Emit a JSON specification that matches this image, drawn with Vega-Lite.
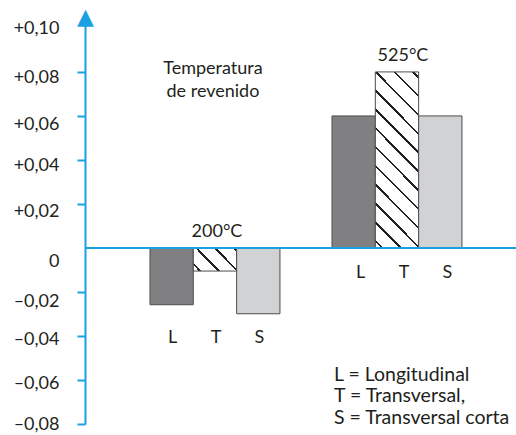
{
  "$schema": "https://vega.github.io/schema/vega-lite/v6.json",
  "width": 431,
  "height": 406,
  "autosize": {"type": "none"},
  "padding": {"left": 85, "top": 18, "right": 0, "bottom": 11},
  "config": {"view": {"stroke": null}, "font": "Lato", "text": {"font": "Lato", "fontSize": 18, "color": "#231f20"}},
  "data": {"values": [
    {"group": "200°C", "component": "L", "value": -0.0258},
    {"group": "200°C", "component": "T", "value": -0.0105},
    {"group": "200°C", "component": "S", "value": -0.0299},
    {"group": "525°C", "component": "L", "value": 0.06},
    {"group": "525°C", "component": "T", "value": 0.08},
    {"group": "525°C", "component": "S", "value": 0.06}
  ]},
  "layer": [
    {
      "mark": {"type": "bar", "stroke": "#4d4d4f", "strokeWidth": 1},
      "encoding": {
        "x": {"field": "group", "type": "nominal", "sort": ["200°C", "525°C"], "scale": {"paddingInner": 0.286, "paddingOuter": 0.327, "align": 0.546}, "axis": null},
        "xOffset": {"field": "component", "type": "nominal", "sort": ["L", "T", "S"], "scale": {"paddingInner": 0, "paddingOuter": 0}},
        "y": {
          "field": "value", "type": "quantitative", "title": "▲",
          "scale": {"domain": [-0.08, 0.1045], "nice": false, "zero": false},
          "axis": {
            "values": [-0.08, -0.06, -0.04, -0.02, 0, 0.02, 0.04, 0.06, 0.08, 0.1],
            "labelExpr": "datum.value === 0 ? '0' : (datum.value > 0 ? '+' : '–') + replace(format(abs(datum.value), '.2f'), '.', ',')",
            "grid": false,
            "domainColor": "#1ba1e2", "domainWidth": 2,
            "tickColor": "#1ba1e2", "tickWidth": 2, "tickSize": 8,
            "tickOpacity": {"condition": {"test": "abs(datum.value) < 0.001 || datum.value > 0.09", "value": 0}, "value": 1},
            "labelFont": "Lato", "labelFontSize": 18, "labelColor": "#231f20", "labelPadding": 18,
            "labelOffset": {"condition": [
              {"test": "datum.value > 0.09", "value": 1},
              {"test": "datum.value > 0.07", "value": 5.5},
              {"test": "datum.value > 0.05", "value": 9},
              {"test": "datum.value > 0.03", "value": 5.7},
              {"test": "datum.value > 0.01", "value": 7.7},
              {"test": "datum.value > -0.01", "value": 13.4},
              {"test": "datum.value > -0.03", "value": 9.4},
              {"test": "datum.value > -0.07", "value": 3.3}
            ], "value": 0.3},
            "titleColor": "#1ba1e2", "titleFont": "DejaVu Sans", "titleFontSize": 22, "titleFontWeight": "normal",
            "titleAngle": 0, "titleX": 0, "titleY": 5, "titleAlign": "center", "titleBaseline": "alphabetic"
          }
        },
        "fill": {
          "condition": [
            {"test": "datum.component === 'L'", "value": "#808083"},
            {"test": "datum.component === 'S'", "value": "#d1d2d4"},
            {"test": "datum.group === '525°C'", "value": {
              "gradient": "linear", "x1": 0, "y1": 1, "x2": 0.292, "y2": -0.175,
              "stops": [
                {"offset": 0, "color": "#ffffff"},
                {"offset": 0.0262, "color": "#ffffff"}, {"offset": 0.0262, "color": "#231f20"}, {"offset": 0.0377, "color": "#231f20"}, {"offset": 0.0377, "color": "#ffffff"},
                {"offset": 0.1120, "color": "#ffffff"}, {"offset": 0.1120, "color": "#231f20"}, {"offset": 0.1235, "color": "#231f20"}, {"offset": 0.1235, "color": "#ffffff"},
                {"offset": 0.1977, "color": "#ffffff"}, {"offset": 0.1977, "color": "#231f20"}, {"offset": 0.2092, "color": "#231f20"}, {"offset": 0.2092, "color": "#ffffff"},
                {"offset": 0.2834, "color": "#ffffff"}, {"offset": 0.2834, "color": "#231f20"}, {"offset": 0.2949, "color": "#231f20"}, {"offset": 0.2949, "color": "#ffffff"},
                {"offset": 0.3692, "color": "#ffffff"}, {"offset": 0.3692, "color": "#231f20"}, {"offset": 0.3807, "color": "#231f20"}, {"offset": 0.3807, "color": "#ffffff"},
                {"offset": 0.4549, "color": "#ffffff"}, {"offset": 0.4549, "color": "#231f20"}, {"offset": 0.4664, "color": "#231f20"}, {"offset": 0.4664, "color": "#ffffff"},
                {"offset": 0.5406, "color": "#ffffff"}, {"offset": 0.5406, "color": "#231f20"}, {"offset": 0.5521, "color": "#231f20"}, {"offset": 0.5521, "color": "#ffffff"},
                {"offset": 0.6264, "color": "#ffffff"}, {"offset": 0.6264, "color": "#231f20"}, {"offset": 0.6379, "color": "#231f20"}, {"offset": 0.6379, "color": "#ffffff"},
                {"offset": 0.7121, "color": "#ffffff"}, {"offset": 0.7121, "color": "#231f20"}, {"offset": 0.7236, "color": "#231f20"}, {"offset": 0.7236, "color": "#ffffff"},
                {"offset": 0.7978, "color": "#ffffff"}, {"offset": 0.7978, "color": "#231f20"}, {"offset": 0.8093, "color": "#231f20"}, {"offset": 0.8093, "color": "#ffffff"},
                {"offset": 0.8836, "color": "#ffffff"}, {"offset": 0.8836, "color": "#231f20"}, {"offset": 0.8951, "color": "#231f20"}, {"offset": 0.8951, "color": "#ffffff"},
                {"offset": 0.9693, "color": "#ffffff"}, {"offset": 0.9693, "color": "#231f20"}, {"offset": 0.9808, "color": "#231f20"}, {"offset": 0.9808, "color": "#ffffff"},
                {"offset": 1, "color": "#ffffff"}
              ]
            }}
          ],
          "value": {
            "gradient": "linear", "x1": 0, "y1": 1, "x2": 1.196, "y2": 0.3745,
            "stops": [
              {"offset": 0, "color": "#ffffff"},
              {"offset": 0.0865, "color": "#ffffff"}, {"offset": 0.0865, "color": "#231f20"}, {"offset": 0.1245, "color": "#231f20"}, {"offset": 0.1245, "color": "#ffffff"},
              {"offset": 0.3692, "color": "#ffffff"}, {"offset": 0.3692, "color": "#231f20"}, {"offset": 0.4072, "color": "#231f20"}, {"offset": 0.4072, "color": "#ffffff"},
              {"offset": 0.6519, "color": "#ffffff"}, {"offset": 0.6519, "color": "#231f20"}, {"offset": 0.6899, "color": "#231f20"}, {"offset": 0.6899, "color": "#ffffff"},
              {"offset": 0.9346, "color": "#ffffff"}, {"offset": 0.9346, "color": "#231f20"}, {"offset": 0.9726, "color": "#231f20"}, {"offset": 0.9726, "color": "#ffffff"},
              {"offset": 1, "color": "#ffffff"}
            ]
          }
        }
      }
    },
    {
      "mark": {"type": "rule", "color": "#1ba1e2", "strokeWidth": 2},
      "encoding": {"y": {"datum": 0, "type": "quantitative", "title": "▲"}}
    },
    {
      "transform": [{"filter": "datum.group === '200°C'"}],
      "mark": {"type": "text", "baseline": "middle", "align": "center", "dy": 24, "dx": 1},
      "encoding": {
        "x": {"field": "group", "type": "nominal", "axis": null},
        "xOffset": {"field": "component", "type": "nominal", "sort": ["L", "T", "S"]},
        "y": {"datum": -0.0299, "type": "quantitative", "title": "▲"},
        "text": {"field": "component"}
      }
    },
    {
      "transform": [{"filter": "datum.group === '525°C'"}],
      "mark": {"type": "text", "baseline": "middle", "align": "center", "dy": 25, "dx": 7},
      "encoding": {
        "x": {"field": "group", "type": "nominal", "axis": null},
        "xOffset": {"field": "component", "type": "nominal", "sort": ["L", "T", "S"]},
        "y": {"datum": 0, "type": "quantitative", "title": "▲"},
        "text": {"field": "component"}
      }
    },
    {
      "transform": [{"filter": "datum.group === '200°C' && datum.component === 'T'"}],
      "mark": {"type": "text", "baseline": "middle", "align": "center", "dy": -16, "dx": 2},
      "encoding": {
        "x": {"field": "group", "type": "nominal", "axis": null},
        "y": {"datum": 0, "type": "quantitative", "title": "▲"},
        "text": {"field": "group"}
      }
    },
    {
      "transform": [{"filter": "datum.group === '525°C' && datum.component === 'T'"}],
      "mark": {"type": "text", "baseline": "middle", "align": "center", "dy": -16, "dx": 6},
      "encoding": {
        "x": {"field": "group", "type": "nominal", "axis": null},
        "y": {"field": "value", "type": "quantitative", "title": "▲"},
        "text": {"field": "group"}
      }
    },
    {
      "data": {"values": [{"note": ["Temperatura", "de revenido"]}]},
      "mark": {"type": "text", "baseline": "alphabetic", "align": "center", "dx": -2, "lineHeight": 22.7},
      "encoding": {
        "x": {"datum": "200°C", "type": "nominal", "bandPosition": 0.5, "axis": null},
        "y": {"datum": 0.0791, "type": "quantitative", "title": "▲"},
        "text": {"field": "note"}
      }
    },
    {
      "data": {"values": [{"note": ["L = Longitudinal", "T = Transversal,", "S = Transversal corta"]}]},
      "mark": {"type": "text", "baseline": "alphabetic", "align": "left", "dx": 2, "lineHeight": 21.7, "fontSize": 19.5},
      "encoding": {
        "x": {"datum": "525°C", "type": "nominal", "bandPosition": 0, "axis": null},
        "y": {"datum": -0.0603, "type": "quantitative", "title": "▲"},
        "text": {"field": "note"}
      }
    }
  ]
}
